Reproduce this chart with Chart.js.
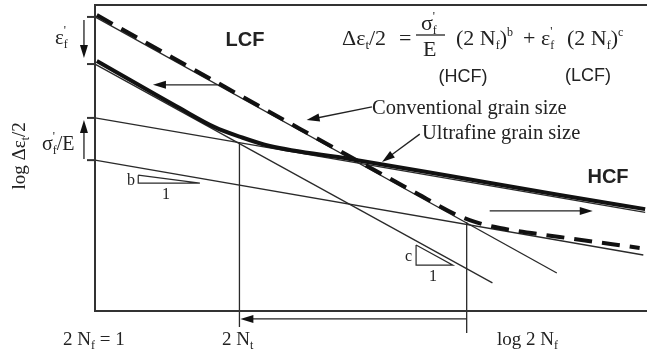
<!DOCTYPE html>
<html>
<head>
<meta charset="utf-8">
<script src="https://cdn.jsdelivr.net/npm/chart.js@4.4.0/dist/chart.umd.min.js"></script>
<style>
  html, body { margin: 0; padding: 0; background: #fff; }
  #wrap { width: 647px; height: 356px; }
</style>
</head>
<body>
<div id="wrap"><canvas id="strainChart" width="647" height="356"></canvas></div>
<script>
// x = log 2Nf, y = log strain amplitude (arbitrary units)
const xRange = [0, 6];
const yRange = [0, 10];

// straight elastic (HCF) and plastic (LCF) lines
const convPlastic = [[0, 9.61], [5.02, 1.24]];
const ufgPlastic = [[0, 8.07], [4.32, 0.92]];
const ufgElastic = [[0, 6.31], [5.98, 3.22]];
const convElastic = [[0, 4.93], [5.96, 1.83]];

// total strain curves
const convTotal = [[0.02, 9.67], [2.23, 5.95], [3.53, 3.79], [3.91, 3.17], [4.13, 2.91],
                   [4.40, 2.71], [5.05, 2.42], [5.92, 2.06]];
const ufgTotal = [[0.02, 8.17], [0.92, 6.63], [1.30, 6.01], [1.58, 5.69], [1.90, 5.39],
                  [2.77, 4.97], [3.86, 4.41], [5.05, 3.79], [5.98, 3.33]];

// transition lives 2Nt
const ufgTransition = [[1.57, 5.52], [1.57, -0.52]];
const convTransition = [[4.04, 2.91], [4.04, -0.72]];

// slope triangles b and c
const slopeB = [[0.47, 4.44], [0.47, 4.18], [1.14, 4.18], [0.47, 4.44]];
const slopeC = [[3.49, 2.16], [3.49, 1.50], [3.89, 1.50], [3.49, 2.16]];

// intercepts marked on the strain axis
const axisTicks = [9.61, 8.07, 6.31, 4.93];

// arrows [from, to]
const arrows = [
    [[1.33, 7.39], [0.63, 7.39]],
    [[4.29, 3.27], [5.41, 3.27]],
    [[4.04, -0.26], [1.58, -0.26]],
    [[-0.12, 9.51], [-0.12, 8.27]],
    [[-0.12, 4.97], [-0.12, 6.24]],
    [[3.01, 6.67], [2.30, 6.24]],
    [[3.53, 5.78], [3.12, 4.87]]
];

const SERIF = '"Liberation Serif", "DejaVu Serif", serif';
const SANS = '"Liberation Sans", Arial, sans-serif';

function pts(arr) {
    return arr.map(p => ({ x: p[0], y: p[1] }));
}

function lineSet(arr, width, extra) {
    return Object.assign({
        data: pts(arr),
        showLine: true,
        borderColor: "#2a2a2a",
        borderWidth: width,
        pointRadius: 0,
        fill: false,
        clip: false
    }, extra || {});
}

// draws text runs in sequence; run = [text, size, dy, noAdvance]
function runs(ctx, list, x, y, family) {
    list.forEach(r => {
        ctx.font = r[1] + "px " + family;
        ctx.fillText(r[0], x, y + (r[2] || 0));
        if (!r[3]) x += ctx.measureText(r[0]).width;
    });
    return x;
}

function arrow(ctx, x1, y1, x2, y2) {
    const a = Math.atan2(y2 - y1, x2 - x1);
    const len = 13, hw = 4;
    ctx.beginPath();
    ctx.moveTo(x1, y1);
    ctx.lineTo(x2 - Math.cos(a) * len * 0.8, y2 - Math.sin(a) * len * 0.8);
    ctx.stroke();
    ctx.beginPath();
    ctx.moveTo(x2, y2);
    ctx.lineTo(x2 - Math.cos(a) * len - Math.sin(a) * hw, y2 - Math.sin(a) * len + Math.cos(a) * hw);
    ctx.lineTo(x2 - Math.cos(a) * len + Math.sin(a) * hw, y2 - Math.sin(a) * len - Math.cos(a) * hw);
    ctx.closePath();
    ctx.fill();
}

const decor = {
    id: "decor",
    afterDatasetsDraw(chart) {
        const ctx = chart.ctx;
        const area = chart.chartArea;
        const xs = chart.scales.x, ys = chart.scales.y;
        ctx.save();

        // frame: left, top and bottom edges
        ctx.strokeStyle = "#333";
        ctx.lineWidth = 2;
        ctx.beginPath();
        ctx.moveTo(area.right, area.top);
        ctx.lineTo(area.left, area.top);
        ctx.lineTo(area.left, area.bottom);
        ctx.lineTo(area.right, area.bottom);
        ctx.stroke();

        axisTicks.forEach(v => {
            const py = ys.getPixelForValue(v);
            ctx.beginPath();
            ctx.moveTo(area.left - 8, py);
            ctx.lineTo(area.left, py);
            ctx.stroke();
        });

        ctx.strokeStyle = "#222";
        ctx.fillStyle = "#111";
        ctx.lineWidth = 1.3;
        arrows.forEach(a => {
            arrow(ctx, xs.getPixelForValue(a[0][0]), ys.getPixelForValue(a[0][1]),
                xs.getPixelForValue(a[1][0]), ys.getPixelForValue(a[1][1]));
        });

        ctx.fillStyle = "#222";
        ctx.textBaseline = "alphabetic";
        ctx.textAlign = "left";

        // strain-life relation
        runs(ctx, [["Δε", 22], ["t", 13, 4], ["/2", 22]], 342, 45, SERIF);
        runs(ctx, [["=", 22]], 399, 45, SERIF);
        ctx.lineWidth = 1.3;
        ctx.beginPath();
        ctx.moveTo(416, 35);
        ctx.lineTo(445, 35);
        ctx.stroke();
        runs(ctx, [["σ", 22], ["'", 12, -10, true], ["f", 12, 4]], 421, 30, SERIF);
        runs(ctx, [["E", 22]], 423, 56, SERIF);
        runs(ctx, [["(2 N", 22], ["f", 12, 4], [")", 22], ["b", 12, -9]], 456, 45, SERIF);
        runs(ctx, [["+", 22]], 523, 45, SERIF);
        runs(ctx, [["ε", 22], ["'", 12, -10, true], ["f", 12, 4]], 541, 45, SERIF);
        runs(ctx, [["(2 N", 22], ["f", 12, 4], [")", 22], ["c", 12, -9]], 567, 45, SERIF);

        ctx.font = "18px " + SANS;
        ctx.textAlign = "center";
        ctx.fillText("(HCF)", 463, 82);
        ctx.fillText("(LCF)", 588, 81);

        ctx.font = "bold 20px " + SANS;
        ctx.fillText("LCF", 245, 46);
        ctx.fillText("HCF", 608, 183);

        ctx.textAlign = "left";
        ctx.font = "20.5px " + SERIF;
        ctx.fillText("Conventional grain size", 372, 114);
        ctx.fillText("Ultrafine grain size", 422, 139);

        // slope labels
        ctx.font = "16px " + SERIF;
        ctx.fillText("b", 127, 185);
        ctx.fillText("1", 162, 199);
        ctx.fillText("c", 405, 261);
        ctx.fillText("1", 429, 281);

        // intercept labels
        runs(ctx, [["ε", 21], ["'", 12, -10, true], ["f", 12, 4]], 55, 44, SERIF);
        runs(ctx, [["σ", 20], ["'", 12, -10, true], ["f", 12, 4], ["/E", 20]], 42, 150, SERIF);

        // cycle labels
        runs(ctx, [["2 N", 19], ["f", 12, 4], [" = 1", 19]], 63, 345, SERIF);
        runs(ctx, [["2 N", 19], ["t", 12, 4]], 222, 345, SERIF);
        runs(ctx, [["log 2 N", 19], ["f", 12, 4]], 497, 345, SERIF);

        // vertical axis title
        ctx.translate(25, 155);
        ctx.rotate(-Math.PI / 2);
        ctx.font = "19px " + SERIF;
        const w = ctx.measureText("log Δε/2").width + 5;
        runs(ctx, [["log Δε", 19], ["t", 12, 4], ["/2", 19]], -w / 2, 0, SERIF);

        ctx.restore();
    }
};

new Chart(document.getElementById("strainChart").getContext("2d"), {
    type: "scatter",
    data: {
        datasets: [
            lineSet(convTotal, 4, { borderColor: "#111", borderDash: [18, 10], cubicInterpolationMode: "monotone" }),
            lineSet(ufgTotal, 4, { borderColor: "#111", cubicInterpolationMode: "monotone" }),
            lineSet(convPlastic, 1.3),
            lineSet(ufgPlastic, 1.3),
            lineSet(ufgElastic, 1.3),
            lineSet(convElastic, 1.3),
            lineSet(ufgTransition, 1.3),
            lineSet(convTransition, 1.3),
            lineSet(slopeB, 1.2),
            lineSet(slopeC, 1.2)
        ]
    },
    options: {
        responsive: false,
        animation: false,
        layout: { padding: { left: 95, top: 5, right: 0, bottom: 45 } },
        plugins: {
            legend: { display: false },
            tooltip: { enabled: false }
        },
        scales: {
            x: { type: "linear", min: xRange[0], max: xRange[1], display: false },
            y: { type: "linear", min: yRange[0], max: yRange[1], display: false }
        }
    },
    plugins: [decor]
});
</script>
</body>
</html>
